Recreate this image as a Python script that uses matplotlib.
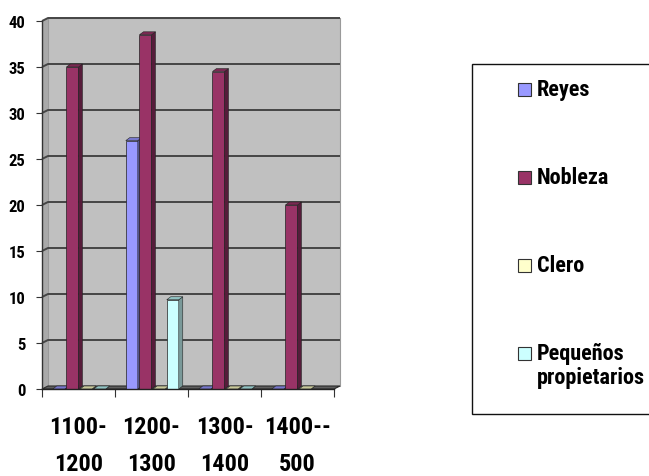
import matplotlib
matplotlib.use("Agg")
import matplotlib.pyplot as plt
from matplotlib.patches import Polygon, Rectangle
from matplotlib import font_manager
import numpy as np

# --- data -------------------------------------------------------------
periodos = ["1100-\n1200", "1200-\n1300", "1300-\n1400", "1400--\n500"]
series_names = ["Reyes", "Nobleza", "Clero", "Pequeños\npropietarios"]
reyes = [0, 27, 0, 0]
nobleza = [35, 38.5, 34.5, 20]
clero = [0, 0, 0, 0]
pequenos = [0, 9.7, 0, None]
y_ticks = [0, 5, 10, 15, 20, 25, 30, 35, 40]

# --- styling ----------------------------------------------------------
installed = {f.name for f in font_manager.fontManager.ttflist}
narrow = [n for n in ("Liberation Sans Narrow", "DejaVu Sans Condensed",
                      "Roboto Condensed", "Open Sans Condensed")
          if n in installed]
FONT = narrow + ["Liberation Sans", "DejaVu Sans"]
face_cols = ["#9999ff", "#993366", "#ffffcc", "#ccffff"]
side_cols = ["#5c5c99", "#561c3a", "#99997a", "#7a9999"]
top_cols = ["#7777cc", "#7a2952", "#c8c89a", "#92c4c4"]

W, H = 649, 477
fig = plt.figure(figsize=(W / 100, H / 100), dpi=100)
fig.patch.set_facecolor("white")


def fx(px):
    return px / W


def fy(py):
    return 1 - py / H


x0, x1, ytop, ybot = 42, 334, 22, 390
ax = fig.add_axes([fx(x0), fy(ybot), (x1 - x0) / W, (ybot - ytop) / H])
ax.set_xlim(0, 4)
ax.set_ylim(0, 40)
ax.patch.set_visible(False)
for s in ax.spines.values():
    s.set_visible(False)

ppx = (x1 - x0) / 4.0      # pixels per category unit
ppy = (ybot - ytop) / 40.0  # pixels per value unit
wall_dx, wall_dy = 6 / ppx, 3 / ppy
bar_dx, bar_dy = 4 / ppx, 3 / ppy

# back wall, side wall and floor of the pseudo-3D box
ax.add_patch(Polygon([(wall_dx, wall_dy), (4 + wall_dx, wall_dy),
                      (4 + wall_dx, 40 + wall_dy), (wall_dx, 40 + wall_dy)],
                     closed=True, fc="#c0c0c0", ec="#9a9a9a", lw=0.8,
                     clip_on=False, zorder=0))
ax.add_patch(Polygon([(0, 0), (wall_dx, wall_dy), (wall_dx, 40 + wall_dy), (0, 40)],
                     closed=True, fc="#a9a9a9", ec="none", clip_on=False, zorder=0))
ax.add_patch(Polygon([(0, 0), (4, 0), (4 + wall_dx, wall_dy), (wall_dx, wall_dy)],
                     closed=True, fc="#5e5e5e", ec="#2a2a2a", lw=0.8,
                     clip_on=False, zorder=1))

# gridlines on the back wall
for v in y_ticks[1:]:
    ax.plot([0, wall_dx, 4 + wall_dx], [v, v + wall_dy, v + wall_dy],
            color="#454545", lw=1.4, clip_on=False, zorder=1, solid_capstyle="butt")

# bars with side and top faces
width = 0.165
step = 0.187
all_series = [reyes, nobleza, clero, pequenos]
for i, vals in enumerate(all_series):
    xs = np.arange(len(periodos)) + 0.23 + i * step
    z = 3 + i
    for xc, v in zip(xs, vals):
        if v is None:
            continue
        ax.bar(xc, v, width=width, color=face_cols[i], edgecolor="#222222",
               lw=0.5, zorder=z)
        r = xc + width / 2
        l = xc - width / 2
        ax.add_patch(Polygon([(r, 0), (r + bar_dx, bar_dy), (r + bar_dx, v + bar_dy), (r, v)],
                             closed=True, fc=side_cols[i], ec="#222222", lw=0.4,
                             clip_on=False, zorder=z))
        ax.add_patch(Polygon([(l, v), (r, v), (r + bar_dx, v + bar_dy), (l + bar_dx, v + bar_dy)],
                             closed=True, fc=top_cols[i], ec="#222222", lw=0.4,
                             clip_on=False, zorder=z))

# axis lines
ax.plot([0, 0], [0, 40], color="#333333", lw=1.0, clip_on=False, zorder=10)
ax.plot([0, 4], [0, 0], color="#222222", lw=1.0, clip_on=False, zorder=10)

ax.set_yticks(y_ticks)
ax.set_yticklabels([str(t) for t in y_ticks], fontfamily=FONT,
                   fontweight="bold", fontsize=12)
ax.tick_params(axis="y", direction="out", length=4, width=0.8,
               color="#333333", pad=8)

ax.set_xticks(range(5))
ax.set_xticklabels([""] * 5)
ax.tick_params(axis="x", which="major", direction="out", length=5.5,
               width=0.8, color="#333333")
ax.set_xticks(np.arange(len(periodos)) + 0.5, minor=True)
ax.set_xticklabels(periodos, minor=True, fontfamily=FONT, fontweight="bold",
                   fontsize=17.5, linespacing=1.75, ha="center")
ax.tick_params(axis="x", which="minor", length=0, pad=19)

# legend box
fig.patches.append(Rectangle((fx(472), fy(415)), fx(720) - fx(472), fy(65) - fy(415),
                             transform=fig.transFigure, fc="white", ec="#111111",
                             lw=1.0, zorder=1))
leg_y = [90, 178, 266, 366]
sq = 13
for i, name in enumerate(series_names):
    cy = leg_y[i] if i < 3 else 354
    fig.patches.append(Rectangle((fx(518), fy(cy + sq / 2)), sq / W, sq / H,
                                 transform=fig.transFigure, fc=face_cols[i],
                                 ec="#333333", lw=0.8, zorder=2))
    fig.text(fx(537), fy(leg_y[i]), name, fontfamily=FONT, fontweight="bold",
             fontsize=16, va="center", ha="left", linespacing=1.15, zorder=3)

fig.savefig("out.png", dpi=100)
